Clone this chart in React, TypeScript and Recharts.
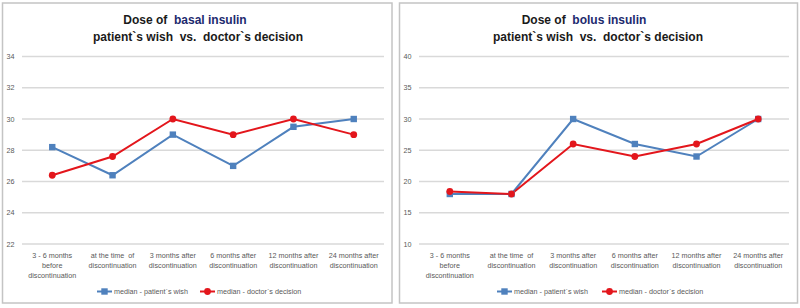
import React from 'react';
import { LineChart, Line, XAxis, YAxis, CartesianGrid } from 'recharts';

const categories = [
  '3 - 6 months\nbefore\ndiscontinuation',
  'at the time  of\ndiscontinuation',
  '3 months after\ndiscontinuation',
  '6 months after\ndiscontinuation',
  '12 months after\ndiscontinuation',
  '24 months after\ndiscontinuation',
];

const basalPatient = [28.2, 26.4, 29, 27, 29.5, 30];
const basalDoctor = [26.4, 27.6, 30, 29, 30, 29];
const bolusPatient = [18, 18, 30, 26, 24, 30];
const bolusDoctor = [18.4, 18, 26, 24, 26, 30];

const basalTicks = [22, 24, 26, 28, 30, 32, 34];
const bolusTicks = [10, 15, 20, 25, 30, 35, 40];

const seriesNames = ['median - patient`s wish', 'median - doctor`s decision'];
const titleLine1 = ['Dose of  ', 'basal insulin', 'bolus insulin'];
const titleLine2 = 'patient`s wish  vs.  doctor`s decision';

const BLUE = '#4F81BD';
const RED = '#E3161C';
const GRID = '#d9d9d9';
const TEXT = '#595959';
const FONT = '"Liberation Sans", Arial, sans-serif';
const SMALL = 7.2;

function buildRows(p: number[], d: number[]) {
  return categories.map((c, i) => ({ cat: c, patient: p[i], doctor: d[i] }));
}

const XTick = (props: any) => {
  const { x, y, payload } = props;
  const lines = String(payload.value).split('\n');
  return (
    <text x={x} y={y} textAnchor="middle" fontFamily={FONT} fontSize={SMALL} fill={TEXT} style={{ whiteSpace: 'pre' }}>
      {lines.map((l, i) => (
        <tspan key={i} x={x} dy={i === 0 ? 13.5 : 10}>
          {l}
        </tspan>
      ))}
    </text>
  );
};

const SquareDot = (props: any) => {
  const { cx, cy, index } = props;
  return <rect key={`sq${index}`} x={cx - 3.2} y={cy - 3.2} width={6.4} height={6.4} fill={BLUE} />;
};

const CircleDot = (props: any) => {
  const { cx, cy, index } = props;
  return <circle key={`ci${index}`} cx={cx} cy={cy} r={3.4} fill={RED} />;
};

function Panel(props: { left: number; rows: any[]; ticks: number[]; yWidth: number; right: number; pad: number }) {
  const { left, rows, ticks, yWidth, right, pad } = props;
  return (
    <div style={{ position: 'absolute', left, top: 0, width: 400, height: 308 }}>
      <LineChart width={400} height={308} data={rows} margin={{ top: 56.5, right, bottom: 24, left: 0 }}>
        <CartesianGrid horizontal vertical={false} stroke={GRID} strokeWidth={1.3} />
        <XAxis
          dataKey="cat"
          axisLine={false}
          tickLine={false}
          tickSize={0}
          tickMargin={0}
          height={40}
          interval={0}
          padding={{ left: pad, right: pad }}
          tick={<XTick />}
        />
        <YAxis
          type="number"
          domain={[ticks[0], ticks[ticks.length - 1]]}
          ticks={ticks}
          width={yWidth}
          axisLine={false}
          tickLine={false}
          tickSize={0}
          tickMargin={7.5}
          tick={{ fontSize: SMALL, fill: TEXT, fontFamily: FONT }}
        />
        <Line
          dataKey="patient"
          stroke={BLUE}
          strokeWidth={2}
          dot={<SquareDot />}
          activeDot={false}
          isAnimationActive={false}
        />
        <Line
          dataKey="doctor"
          stroke={RED}
          strokeWidth={2}
          dot={<CircleDot />}
          activeDot={false}
          isAnimationActive={false}
        />
      </LineChart>
    </div>
  );
}

function Overlay() {
  const legend = (x0: number, x1: number) => (
    <g fontFamily={FONT} fontSize={SMALL} fill={TEXT}>
      <line x1={x0} y1={291.5} x2={x0 + 15} y2={291.5} stroke={BLUE} strokeWidth={2} />
      <rect x={x0 + 4.3} y={288.3} width={6.4} height={6.4} fill={BLUE} />
      <text x={x0 + 17} y={294} style={{ whiteSpace: 'pre' }}>{seriesNames[0]}</text>
      <line x1={x1} y1={291.5} x2={x1 + 15} y2={291.5} stroke={RED} strokeWidth={2} />
      <circle cx={x1 + 7.5} cy={291.5} r={3.4} fill={RED} />
      <text x={x1 + 17} y={294} style={{ whiteSpace: 'pre' }}>{seriesNames[1]}</text>
    </g>
  );
  const title = (c1: number, c2: number, word: string) => (
    <g fontFamily={FONT} fontSize={12} fontWeight="bold" textAnchor="middle" style={{ whiteSpace: 'pre' }}>
      <text x={c1} y={24} fill="#1a1a1a" style={{ whiteSpace: 'pre' }}>
        <tspan>{titleLine1[0]}</tspan>
        <tspan fill="#1c2a6e">{word}</tspan>
      </text>
      <text x={c2} y={41} fill="#1a1a1a" style={{ whiteSpace: 'pre' }}>
        {titleLine2}
      </text>
    </g>
  );
  return (
    <svg width={800} height={308} style={{ position: 'absolute', left: 0, top: 0, pointerEvents: 'none' }}>
      <rect x={2.5} y={3} width={389.5} height={300} fill="none" stroke="#c4c4c4" strokeWidth={1.5} />
      <rect x={399.5} y={3} width={398} height={300} fill="none" stroke="#c4c4c4" strokeWidth={1.5} />
      {title(185, 198, titleLine1[1])}
      {title(584, 598, titleLine1[2])}
      {legend(97, 200)}
      {legend(497, 602)}
    </svg>
  );
}

export default function App() {
  return (
    <div style={{ position: 'absolute', left: 0, top: 0, width: 800, height: 308, background: '#fff', overflow: 'hidden' }}>
      <Panel left={0} rows={buildRows(basalPatient, basalDoctor)} ticks={basalTicks} yWidth={22} right={16} pad={30.25} />
      <Panel left={400} rows={buildRows(bolusPatient, bolusDoctor)} ticks={bolusTicks} yWidth={19} right={11} pad={30.8} />
      <Overlay />
    </div>
  );
}
